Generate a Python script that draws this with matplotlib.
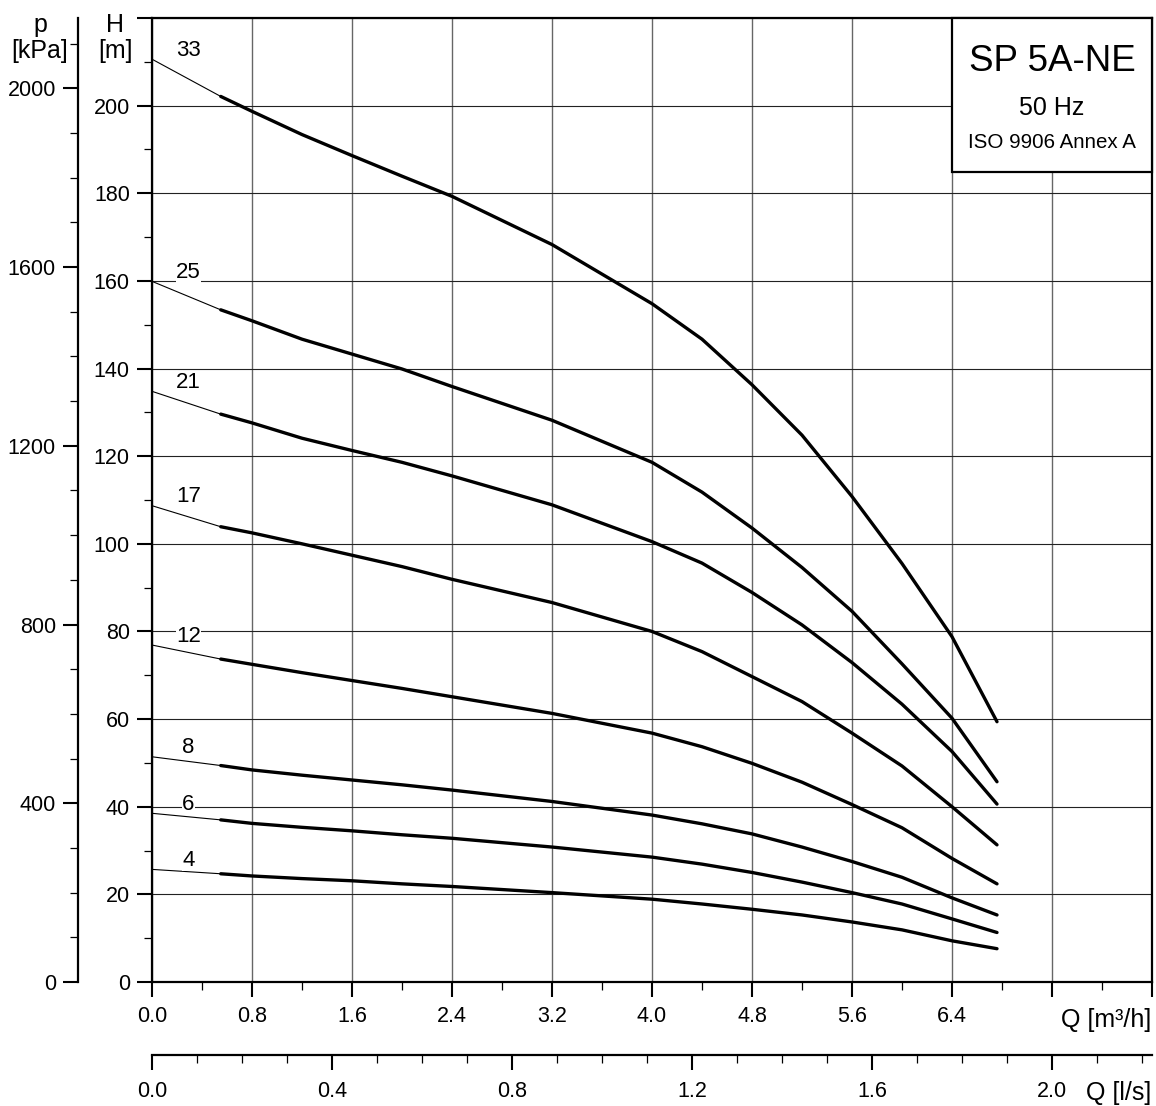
import matplotlib
matplotlib.use("Agg")
import matplotlib.pyplot as plt
from matplotlib.patches import Rectangle
from matplotlib.ticker import FixedLocator, FormatStrFormatter

plt.rcParams['font.family'] = ['Liberation Sans', 'DejaVu Sans']

# flow points [m3/h]
q = [0.0, 0.55, 0.8, 1.2, 1.6, 2.0, 2.4, 3.2, 4.0, 4.4, 4.8, 5.2, 5.6, 6.0, 6.4, 6.76]

# head [m] per stage count
stages = ['33', '25', '21', '17', '12', '8', '6', '4']
h33 = [210.6, 202.1, 198.7, 193.4, 188.6, 183.9, 179.3, 168.3, 154.8, 146.7, 136.3, 124.8, 110.8, 95.5, 78.8, 59.4]
h25 = [159.9, 153.4, 150.9, 146.7, 143.3, 139.9, 135.9, 128.2, 118.6, 111.8, 103.6, 94.6, 84.6, 72.6, 60.2, 45.7]
h21 = [134.8, 129.6, 127.6, 124.1, 121.3, 118.6, 115.5, 108.9, 100.5, 95.6, 88.9, 81.5, 72.9, 63.4, 52.6, 40.6]
h17 = [108.7, 103.9, 102.5, 100.0, 97.4, 94.8, 91.9, 86.6, 80.0, 75.4, 69.7, 64.0, 56.8, 49.3, 40.0, 31.3]
h12 = [76.9, 73.7, 72.5, 70.6, 68.8, 67.0, 65.1, 61.3, 56.8, 53.7, 49.9, 45.6, 40.5, 35.2, 28.2, 22.4]
h8 = [51.4, 49.4, 48.4, 47.2, 46.1, 45.0, 43.8, 41.2, 38.1, 36.1, 33.8, 30.8, 27.5, 23.9, 19.2, 15.3]
h6 = [38.5, 37.0, 36.2, 35.3, 34.5, 33.6, 32.8, 30.8, 28.5, 26.9, 25.0, 22.8, 20.4, 17.8, 14.4, 11.3]
h4 = [25.7, 24.7, 24.2, 23.6, 23.1, 22.4, 21.8, 20.4, 18.9, 17.8, 16.6, 15.3, 13.7, 11.9, 9.4, 7.6]
heads = [h33, h25, h21, h17, h12, h8, h6, h4]

q_ticks = [0.0, 0.8, 1.6, 2.4, 3.2, 4.0, 4.8, 5.6, 6.4, 7.2, 8.0]
q_labels = ['0.0', '0.8', '1.6', '2.4', '3.2', '4.0', '4.8', '5.6', '6.4', '', '']
h_ticks = [0, 20, 40, 60, 80, 100, 120, 140, 160, 180, 200, 220]
h_labels = ['0', '20', '40', '60', '80', '100', '120', '140', '160', '180', '200', '']
p_ticks = [0, 400, 800, 1200, 1600, 2000]
ls_ticks = [0.0, 0.4, 0.8, 1.2, 1.6, 2.0]

G = 9.80665
W, H = 1156, 1106
TICK_FS = 15.5
fig = plt.figure(figsize=(W / 100, H / 100), dpi=100)
ax = fig.add_axes([152 / W, (H - 982) / H, 1000 / W, 964 / H])
ax.set_xlim(0, 8.0)
ax.set_ylim(0, 220)

# curves: thin start, thick operating range
for name, h in zip(stages, heads):
    ax.plot(q[:2], h[:2], color='black', lw=0.8, zorder=3)
    ax.plot(q[1:], h[1:], color='black', lw=2.4, solid_capstyle='round', zorder=3)
    ax.annotate(name, xy=(0.29, h[0]), xytext=(0, 6.5), textcoords='offset points',
                ha='center', va='center', fontsize=16, zorder=4,
                bbox=dict(facecolor='white', edgecolor='none', pad=0.2))

# axes styling
for s in ax.spines.values():
    s.set_linewidth(1.6)
ax.xaxis.set_major_locator(FixedLocator(q_ticks))
ax.xaxis.set_minor_locator(FixedLocator([t + 0.4 for t in q_ticks[:-1]]))
ax.set_xticklabels(q_labels)
ax.yaxis.set_major_locator(FixedLocator(h_ticks))
ax.yaxis.set_minor_locator(FixedLocator([t + 10 for t in h_ticks[:-1]]))
ax.set_yticklabels(h_labels)
ax.tick_params(which='major', length=11, width=1.5, labelsize=TICK_FS, pad=6)
ax.tick_params(which='minor', length=6, width=0.9)
ax.tick_params(axis='y', which='major', pad=5)
ax.xaxis.grid(True, which='major', color='#666666', lw=1.0)
ax.yaxis.grid(True, which='major', color='#222222', lw=0.8)

# pressure axis
pax = ax.secondary_yaxis(-0.074, functions=(lambda h: h * G, lambda p: p / G))
pax.spines['left'].set_linewidth(1.6)
pax.yaxis.set_major_locator(FixedLocator(p_ticks))
pax.yaxis.set_minor_locator(FixedLocator([v for v in range(100, 2200, 100) if v % 400]))
pax.yaxis.set_major_formatter(FormatStrFormatter('%d'))
pax.tick_params(which='major', length=11, width=1.5, labelsize=TICK_FS, pad=5)
pax.tick_params(which='minor', length=6, width=0.9)

# l/s axis
lax = ax.secondary_xaxis(-0.0757, functions=(lambda v: v / 3.6, lambda v: v * 3.6))
lax.spines['bottom'].set_linewidth(1.6)
lax.xaxis.set_major_locator(FixedLocator(ls_ticks))
lax.xaxis.set_minor_locator(FixedLocator([i / 10 for i in range(1, 23) if i % 4]))
lax.xaxis.set_major_formatter(FormatStrFormatter('%.1f'))
lax.tick_params(which='major', length=11, width=1.5, labelsize=TICK_FS, pad=8)
lax.tick_params(which='minor', length=6, width=0.9)

# axis labels
fig.text(40 / W, 1 - 38 / H, 'p\n[kPa]', ha='center', va='center', fontsize=18, linespacing=1.1)
fig.text(115 / W, 1 - 38 / H, 'H\n[m]', ha='center', va='center', fontsize=18, linespacing=1.1)
fig.text(1151 / W, 1 - 1020 / H, 'Q [m\u00b3/h]', ha='right', va='center', fontsize=18)
fig.text(1151 / W, 1 - 1093 / H, 'Q [l/s]', ha='right', va='center', fontsize=18)

# title box
ax.add_patch(Rectangle((0.8, 0.840), 0.2, 0.16, transform=ax.transAxes, facecolor='white',
                       edgecolor='black', lw=1.6, zorder=5, clip_on=False))
ax.text(0.9, 0.955, 'SP 5A-NE', transform=ax.transAxes, ha='center', va='center', fontsize=26.5, zorder=6)
ax.text(0.9, 0.907, '50 Hz', transform=ax.transAxes, ha='center', va='center', fontsize=18, zorder=6)
ax.text(0.9, 0.871, 'ISO 9906 Annex A', transform=ax.transAxes, ha='center', va='center', fontsize=14.8, zorder=6)

fig.savefig('out.png', dpi=100)
